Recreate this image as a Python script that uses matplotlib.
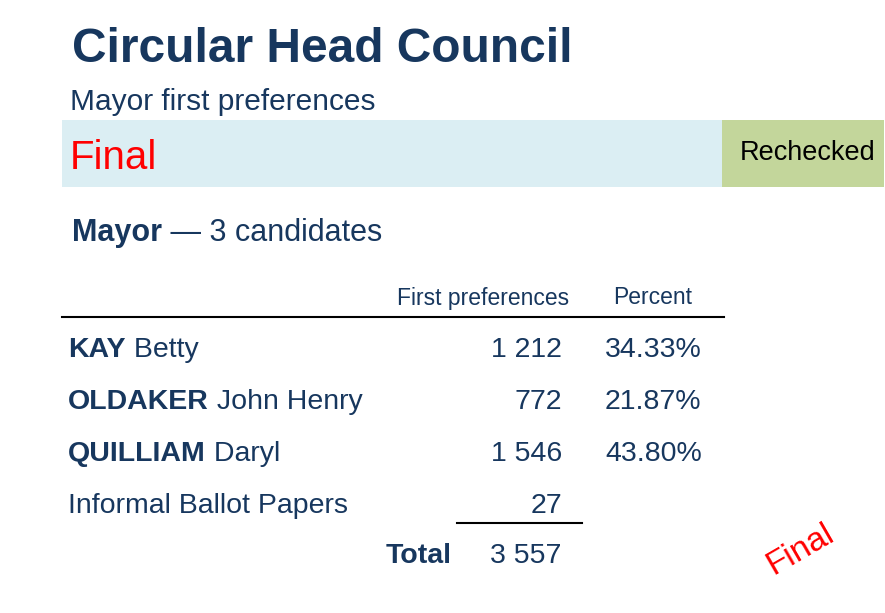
import matplotlib
matplotlib.use('Agg')
import matplotlib.pyplot as plt

surnames = ['KAY', 'OLDAKER', 'QUILLIAM']
given_names = ['Betty', 'John Henry', 'Daryl']
votes = ['1 212', '772', '1 546']
percents = ['34.33%', '21.87%', '43.80%']
informal = '27'
total = '3 557'

W, H = 885, 613
NAVY = '#17375E'
plt.rcParams['font.family'] = ['Liberation Sans', 'DejaVu Sans']

fig = plt.figure(figsize=(W / 100, H / 100), dpi=100)
ax = fig.add_axes([0, 0, 1, 1])
ax.set_xlim(0, W)
ax.set_ylim(H, 0)
ax.axis('off')

ax.add_patch(plt.Rectangle((62, 120), 660, 67, color='#DBEEF3', lw=0))
ax.add_patch(plt.Rectangle((722, 120), 162, 67, color='#C3D69B', lw=0))

ax.text(72, 50, 'Circular Head Council', fontsize=34.5, fontweight='bold', color=NAVY, va='center')
ax.text(70, 102, 'Mayor first preferences', fontsize=21.5, color=NAVY, va='center')
ax.text(70, 158, 'Final', fontsize=29, color='red', va='center')
ax.text(740, 153, 'Rechecked', fontsize=19.5, color='black', va='center')

fig.canvas.draw()
r = fig.canvas.get_renderer()


def two_part(x, y, bold, plain, size):
    t = ax.text(x, y, bold, fontsize=size, fontweight='bold', color=NAVY, va='center')
    bb = t.get_window_extent(r)
    ax.text(x + bb.width, y, plain, fontsize=size, color=NAVY, va='center')


two_part(72, 233, 'Mayor', ' — 3 candidates', 22)

ax.text(483, 298, 'First preferences', fontsize=16.5, color=NAVY, va='center', ha='center')
ax.text(653, 298, 'Percent', fontsize=16.5, color=NAVY, va='center', ha='center')
ax.plot([62, 724], [317, 317], color='black', lw=1.5)

rows_y = [350, 402, 454]
for y, s, g, v, p in zip(rows_y, surnames, given_names, votes, percents):
    two_part(68, y, s, ' ' + g, 20.5)
    ax.text(562, y, v, fontsize=20.5, color=NAVY, va='center', ha='right')
    ax.text(605, y, p, fontsize=20.5, color=NAVY, va='center', ha='left')

ax.text(68, 506, 'Informal Ballot Papers', fontsize=20.5, color=NAVY, va='center')
ax.text(562, 506, informal, fontsize=20.5, color=NAVY, va='center', ha='right')
ax.plot([457, 582], [523, 523], color='black', lw=1.5)

ax.text(452, 556, 'Total', fontsize=20.5, fontweight='bold', color=NAVY, va='center', ha='right')
ax.text(490, 556, total, fontsize=20.5, color=NAVY, va='center', ha='left')

ax.text(800, 550, 'Final', fontsize=24, color='red', va='center', ha='center', rotation=30)

fig.savefig('out.png', dpi=100)
